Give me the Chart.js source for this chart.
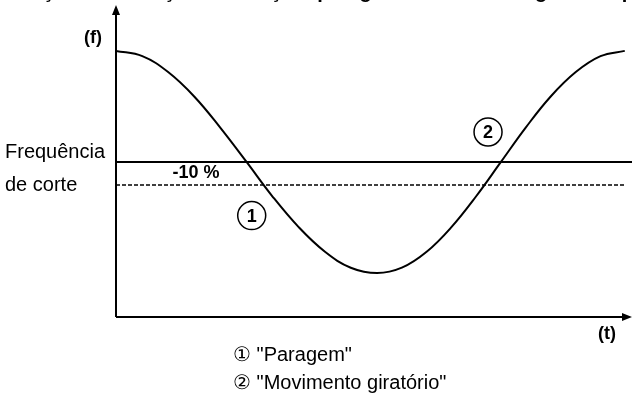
<!DOCTYPE html>
<html>
<head>
<meta charset="utf-8">
<script src="https://cdn.jsdelivr.net/npm/chart.js@4.4.1/dist/chart.umd.min.js"></script>
<style>
html,body{margin:0;padding:0;background:#fff;}
#wrap{width:634px;height:396px;position:relative;}
</style>
</head>
<body>
<div id="wrap"><canvas id="c" width="634" height="396"></canvas></div>
<script>
// Time (t) and frequency (f) values (arbitrary units)
const timeValues = [0, 5.1, 10.1, 15.2, 20.2, 25.3, 30.3, 35.4, 40.5, 45.5, 50.6,
                    55.4, 60.2, 65.0, 69.8, 74.6, 79.4, 84.2, 89.1, 93.9, 98.6];
const freqValues = [85.3, 83.6, 78.5, 70.6, 60.7, 49.7, 38.7, 28.8, 20.9, 15.8, 14.1,
                    15.8, 20.9, 28.8, 38.7, 49.7, 60.7, 70.6, 78.5, 83.6, 85.3];
const cutoffTimes = [0, 100];
const cutoffValues = [49.7, 49.7];
const thresholdTimes = [0, 98.8];
const thresholdValues = [42.3, 42.3];
const markerTimes = [26.3, 72.1];
const markerValues = [32.5, 59.3];
const markerLabels = ['1', '2'];
const legendLines = ['\u2460 "Paragem"', '\u2461 "Movimento giratório"'];

const pts = (xs, ys) => xs.map((x, i) => ({x: x, y: ys[i]}));
const FONT = '"Liberation Sans", Arial, sans-serif';

const decor = {
  id: 'decor',
  afterDatasetsDraw(chart) {
    const ctx = chart.ctx, a = chart.chartArea;
    const xs = chart.scales.x, ys = chart.scales.y;
    ctx.save();
    // title (cut off at the top of the picture)
    ctx.fillStyle = '#000';
    ctx.font = 'bold 20px ' + FONT;
    ctx.textBaseline = 'alphabetic';
    ctx.textAlign = 'left';
    ctx.fillText('Função de detecção de rotação: paragem e movimento giratório por', 6, -2);
    // axes
    ctx.strokeStyle = '#000';
    ctx.lineWidth = 2;
    ctx.beginPath();
    ctx.moveTo(a.left, a.bottom);
    ctx.lineTo(a.left, a.top + 8);
    ctx.moveTo(a.left, a.bottom);
    ctx.lineTo(a.right - 8, a.bottom);
    ctx.stroke();
    ctx.beginPath();
    ctx.moveTo(a.left, a.top);
    ctx.lineTo(a.left - 4, a.top + 10);
    ctx.lineTo(a.left + 4, a.top + 10);
    ctx.closePath();
    ctx.fill();
    ctx.beginPath();
    ctx.moveTo(a.right, a.bottom);
    ctx.lineTo(a.right - 10, a.bottom - 4);
    ctx.lineTo(a.right - 10, a.bottom + 4);
    ctx.closePath();
    ctx.fill();
    // axis labels
    ctx.font = 'bold 18px ' + FONT;
    ctx.textBaseline = 'middle';
    ctx.textAlign = 'center';
    ctx.fillText('(f)', a.left - 23, a.top + 33);
    ctx.fillText('(t)', a.right - 25, a.bottom + 17);
    // cut-off label
    ctx.font = '20px ' + FONT;
    ctx.textAlign = 'left';
    ctx.fillText('Frequência', 5, ys.getPixelForValue(cutoffValues[0]) - 9);
    ctx.fillText('de corte', 5, ys.getPixelForValue(thresholdValues[0]) + 0);
    ctx.font = 'bold 18px ' + FONT;
    ctx.textAlign = 'center';
    ctx.fillText('-10 %', 196, (ys.getPixelForValue(cutoffValues[0]) + ys.getPixelForValue(thresholdValues[0])) / 2);
    // markers
    ctx.lineWidth = 1.5;
    markerTimes.forEach((t, i) => {
      const px = xs.getPixelForValue(t), py = ys.getPixelForValue(markerValues[i]);
      ctx.beginPath();
      ctx.arc(px, py, 14, 0, Math.PI * 2);
      ctx.stroke();
      ctx.font = 'bold 18px ' + FONT;
      ctx.fillText(markerLabels[i], px, py + 1);
    });
    // legend
    ctx.font = '20px ' + FONT;
    ctx.textAlign = 'left';
    legendLines.forEach((s, i) => ctx.fillText(s, 233, 355 + i * 28));
    ctx.restore();
  }
};

new Chart(document.getElementById('c'), {
  type: 'line',
  data: {
    datasets: [
      {data: pts(timeValues, freqValues), borderColor: '#000', borderWidth: 2,
       pointRadius: 0, tension: 0.4, fill: false},
      {data: pts(cutoffTimes, cutoffValues), borderColor: '#000', borderWidth: 2,
       pointRadius: 0, fill: false},
      {data: pts(thresholdTimes, thresholdValues), borderColor: '#000', borderWidth: 1.6,
       borderDash: [4, 2], pointRadius: 0, fill: false}
    ]
  },
  options: {
    responsive: false,
    animation: false,
    layout: {padding: {left: 116, right: 2, top: 5, bottom: 79}},
    plugins: {legend: {display: false}, tooltip: {enabled: false}, title: {display: false}},
    scales: {
      x: {type: 'linear', min: 0, max: 100, display: false},
      y: {type: 'linear', min: 0, max: 100, display: false}
    }
  },
  plugins: [decor]
});
</script>
</body>
</html>
